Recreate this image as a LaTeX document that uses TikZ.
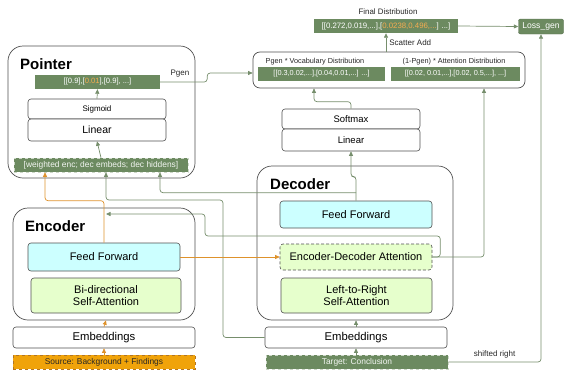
\documentclass[tikz,border=0pt]{standalone}
\usepackage{fontspec}
\setmainfont{Liberation Sans}
\usetikzlibrary{arrows.meta}
\definecolor{gfill}{RGB}{108,138,96}
\definecolor{gline}{RGB}{118,142,108}
\definecolor{oline}{RGB}{222,146,44}
\definecolor{ofill}{RGB}{240,163,10}
\definecolor{otext}{RGB}{246,172,80}
\definecolor{cyanfill}{RGB}{204,255,255}
\definecolor{lgfill}{RGB}{230,255,204}
\definecolor{bord}{RGB}{80,80,80}
\newcommand{\fs}[1]{\fontsize{#1}{#1}\selectfont}
\tikzset{
  outer/.style={draw=bord, line width=0.7pt, rounded corners=15pt, inner sep=0pt},
  plain/.style={draw=bord, line width=0.6pt, rounded corners=3pt, fill=white, inner sep=0pt, align=center},
  ffbox/.style={plain, fill=cyanfill, font=\fs{11}},
  attbox/.style={plain, fill=lgfill, font=\fs{11}},
  gvec/.style={fill=gfill, text=white, inner sep=0pt, font=\fs{7.3}},
  gdash/.style={fill=gfill, draw=white!65!gfill, dashed, line width=0.6pt, text=white!92!gfill, inner sep=0pt, font=\fs{8.4}},
  gline/.style={draw=gline, line width=0.7pt, rounded corners=3pt},
  garrow/.style={gline, -{Triangle[length=4.5pt,width=4pt]}},
  oarrow/.style={draw=oline, line width=0.7pt, rounded corners=3pt, -{Triangle[length=4.5pt,width=4pt]}},
  title/.style={font=\fs{15}\bfseries, anchor=west, inner sep=0pt},
  lbl/.style={font=\fs{7.5}, inner sep=0pt, text=black!85}
}
\begin{document}
\begin{tikzpicture}[x=1pt,y=-1pt]
\useasboundingbox (0,0) rectangle (567,370);
% Pointer
\node[outer, minimum width=187pt, minimum height=132pt] (pointer) at (101.5,112) {};
\node[title] (ptitle) at (20,64) {Pointer};
\node[gvec, minimum width=125pt, minimum height=14pt, font=\fs{7.6}] (pgenv) at (97.5,82) {[[0.9],[\textcolor{otext}{0.01}],[0.9], ...]};
\node[plain, minimum width=138pt, minimum height=20pt, font=\fs{8}] (sigmoid) at (97,109) {Sigmoid};
\node[plain, minimum width=138pt, minimum height=22pt, font=\fs{10.5}] (plinear) at (97,130) {Linear};
\node[gdash, minimum width=174pt, minimum height=14pt] (weighted) at (101,165) {[weighted enc; dec embeds; dec hiddens]};
\node[lbl, font=\fs{8}] (pgenlbl) at (180,74) {Pgen};
% top distributions
\node[outer, minimum width=272pt, minimum height=36pt, rounded corners=7pt] (top) at (389,70) {};
\node[lbl, font=\fs{7.3}] (vocablbl) at (315,61.5) {Pgen * Vocabulary Distribution};
\node[lbl, font=\fs{7.3}] (attnlbl) at (454,61.5) {(1-Pgen) * Attention Distribution};
\node[gvec, minimum width=127pt, minimum height=14pt] (vocab) at (321.5,74) {[[0.3,0.02,...],[0.04,0.01,...] ...]};
\node[gvec, minimum width=129pt, minimum height=14pt] (attn) at (455.5,74) {[[0.02, 0.01,...],[0.02, 0.5,...], ...]};
\node[lbl, font=\fs{7.9}] (finallbl) at (388,12) {Final Distribution};
\node[gvec, minimum width=144pt, minimum height=14pt, font=\fs{7.8}] (final) at (386,26) {[[0.272,0.019,...],[\textcolor{otext}{0.0238,0.496,...}] ...]};
\node[gvec, rounded corners=2pt, draw=gfill!80!black, minimum width=45pt, minimum height=15pt, font=\fs{8.6}] (loss) at (541,26.5) {Loss\_gen};
% Decoder head
\node[plain, minimum width=138pt, minimum height=20pt, font=\fs{9.5}] (softmax) at (351,119) {Softmax};
\node[plain, minimum width=138pt, minimum height=22pt, font=\fs{9.5}] (dlinear) at (351,140) {Linear};
% Decoder
\node[outer, minimum width=196pt, minimum height=154pt] (decoder) at (355,243) {};
\node[title] (dtitle) at (270,184) {Decoder};
\node[ffbox, minimum width=152pt, minimum height=27pt] (dff) at (356,214.5) {Feed Forward};
\node[attbox, densely dashed, minimum width=152pt, minimum height=26pt] (encdec) at (356,257) {Encoder-Decoder Attention};
\node[attbox, minimum width=151pt, minimum height=35pt] (l2r) at (356.5,295.5) {Left-to-Right\\[1pt]Self-Attention};
\node[plain, minimum width=182pt, minimum height=21pt, font=\fs{11.3}] (dembed) at (356,337.5) {Embeddings};
\node[gdash, minimum width=182pt, minimum height=14pt] (target) at (357,362) {Target: Conclusion};
% Encoder
\node[outer, minimum width=182pt, minimum height=112pt] (encoder) at (104,264) {};
\node[title] (etitle) at (25,226) {Encoder};
\node[ffbox, minimum width=152pt, minimum height=28pt] (eff) at (104,257) {Feed Forward};
\node[attbox, minimum width=150pt, minimum height=35pt] (bidir) at (106,295.5) {Bi-directional\\[1pt]Self-Attention};
\node[plain, minimum width=182pt, minimum height=21pt, font=\fs{11.3}] (eembed) at (104,337.5) {Embeddings};
\node[fill=ofill, draw=oline!80!black, dashed, line width=0.6pt, inner sep=0pt, minimum width=182pt, minimum height=14pt, font=\fs{8.4}, text=black!85] (source) at (104,362) {Source: Background + Findings};
% coordinates
\coordinate (j1) at (223,200);
\coordinate (j2) at (205,236);
\coordinate (encin) at (106,214);
% connectors
\draw[garrow] (pgenv.east) -- ++(47,0) |- ([yshift=-3pt]top.west);
\draw[garrow] (sigmoid.north) -- (pgenv.south);
\draw[garrow] (weighted.north) -- (plinear.south);
\draw[garrow] (softmax.north) -- ++(0,-7) -| ([xshift=-75pt]top.south);
\draw[garrow] (dff.north) -- ++(0,-24) -| (dlinear.south);
\draw[garrow] ([yshift=8pt]dff.north) -| ([xshift=59pt]weighted.south);
\draw[garrow] (dembed.west) -| (j1) -| ([xshift=5pt]weighted.south);
\draw[oarrow] (eff.north) -- ++(0,-42) -| ([xshift=-56pt]weighted.south);
\draw[garrow] (encdec.east) -| ([xshift=95pt]top.south);
\draw[garrow] (encdec.east) -- ++(8,0) |- (j2) |- (encin);
\draw[oarrow] (eff.east) -- (encdec.west);
\draw[oarrow] (source.north) -- (eembed.south);
\draw[oarrow] (eembed.north) -- ([xshift=2pt]encoder.south);
\draw[garrow] (target.north -| dembed.south) -- (dembed.south);
\draw[garrow] (dembed.north) -- (decoder.south -| dembed.north);
\draw[garrow] (top.north -| final.south) -- (final.south) node[pos=0.5, right=3pt, lbl, font=\fs{8}] {Scatter Add};
\draw[garrow] (final.east) -- (loss.west);
\draw[garrow] (target.east) -| (loss.south) node[pos=0.25, above=3pt, lbl, font=\fs{8}] {shifted right};
\end{tikzpicture}
\end{document}
